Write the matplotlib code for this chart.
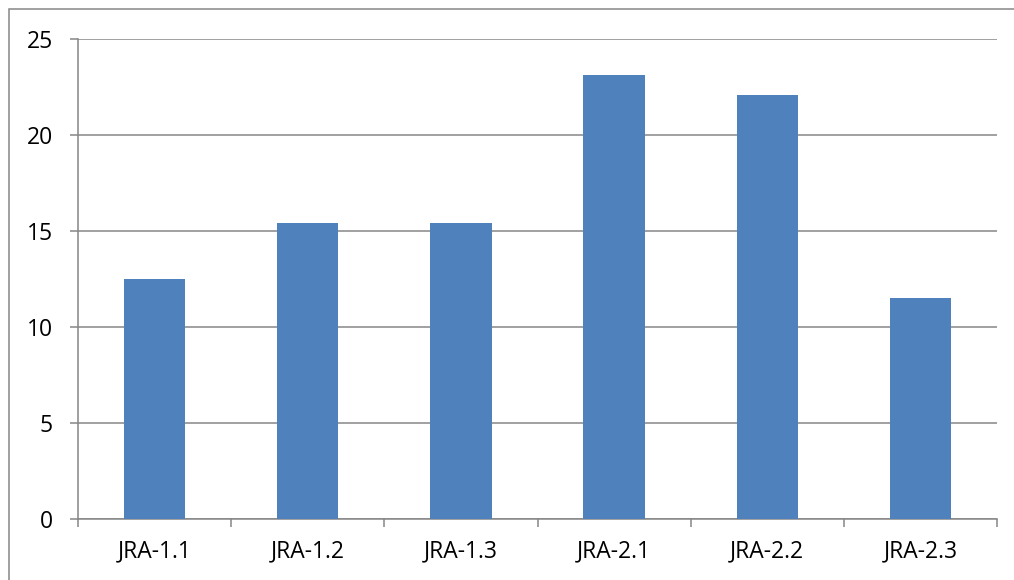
import numpy as np
import matplotlib
matplotlib.use("Agg")
import matplotlib.pyplot as plt
from matplotlib.patches import Rectangle

# data
categories = ["JRA-1.1", "JRA-1.2", "JRA-1.3", "JRA-2.1", "JRA-2.2", "JRA-2.3"]
values = [12.5, 15.4, 15.4, 23.1, 22.1, 11.5]
yticks = [0, 5, 10, 15, 20, 25]

plt.rcParams['font.family'] = ['Open Sans', 'DejaVu Sans']

grey = "#868686"
fig = plt.figure(figsize=(10.14, 5.8), dpi=100)
ax = fig.add_axes([78/1014, 1 - 519/580, (997 - 78)/1014, (519 - 39)/580])

x = np.arange(len(categories))
ax.bar(x, values, width=0.4, color="#4F81BD", zorder=3)

ax.set_xlim(-0.5, len(categories) - 0.5)
ax.set_ylim(0, 25)
ax.set_yticks(yticks)
ax.yaxis.grid(True, color=grey, linewidth=1.1, zorder=0)
ax.set_xticks(x)
ax.set_xticklabels(categories)
ax.set_xticks(np.arange(len(categories) + 1) - 0.5, minor=True)
ax.tick_params(axis='x', which='major', length=0, pad=15, labelsize=16.5)
ax.tick_params(axis='x', which='minor', length=6, color=grey, width=1.1)
ax.tick_params(axis='y', length=6, color=grey, width=1.1, pad=12, labelsize=16.5)

for s in ['top', 'right']:
    ax.spines[s].set_visible(False)
for s in ['left', 'bottom']:
    ax.spines[s].set_color(grey)
    ax.spines[s].set_linewidth(1.1)

# outer chart frame
fig.patches.append(Rectangle((8.5/1014, -0.1), 1.2, 1 - 9.5/580 + 0.1,
                             transform=fig.transFigure, fill=False,
                             edgecolor=grey, linewidth=1.1))

fig.savefig("out.png", dpi=100)
